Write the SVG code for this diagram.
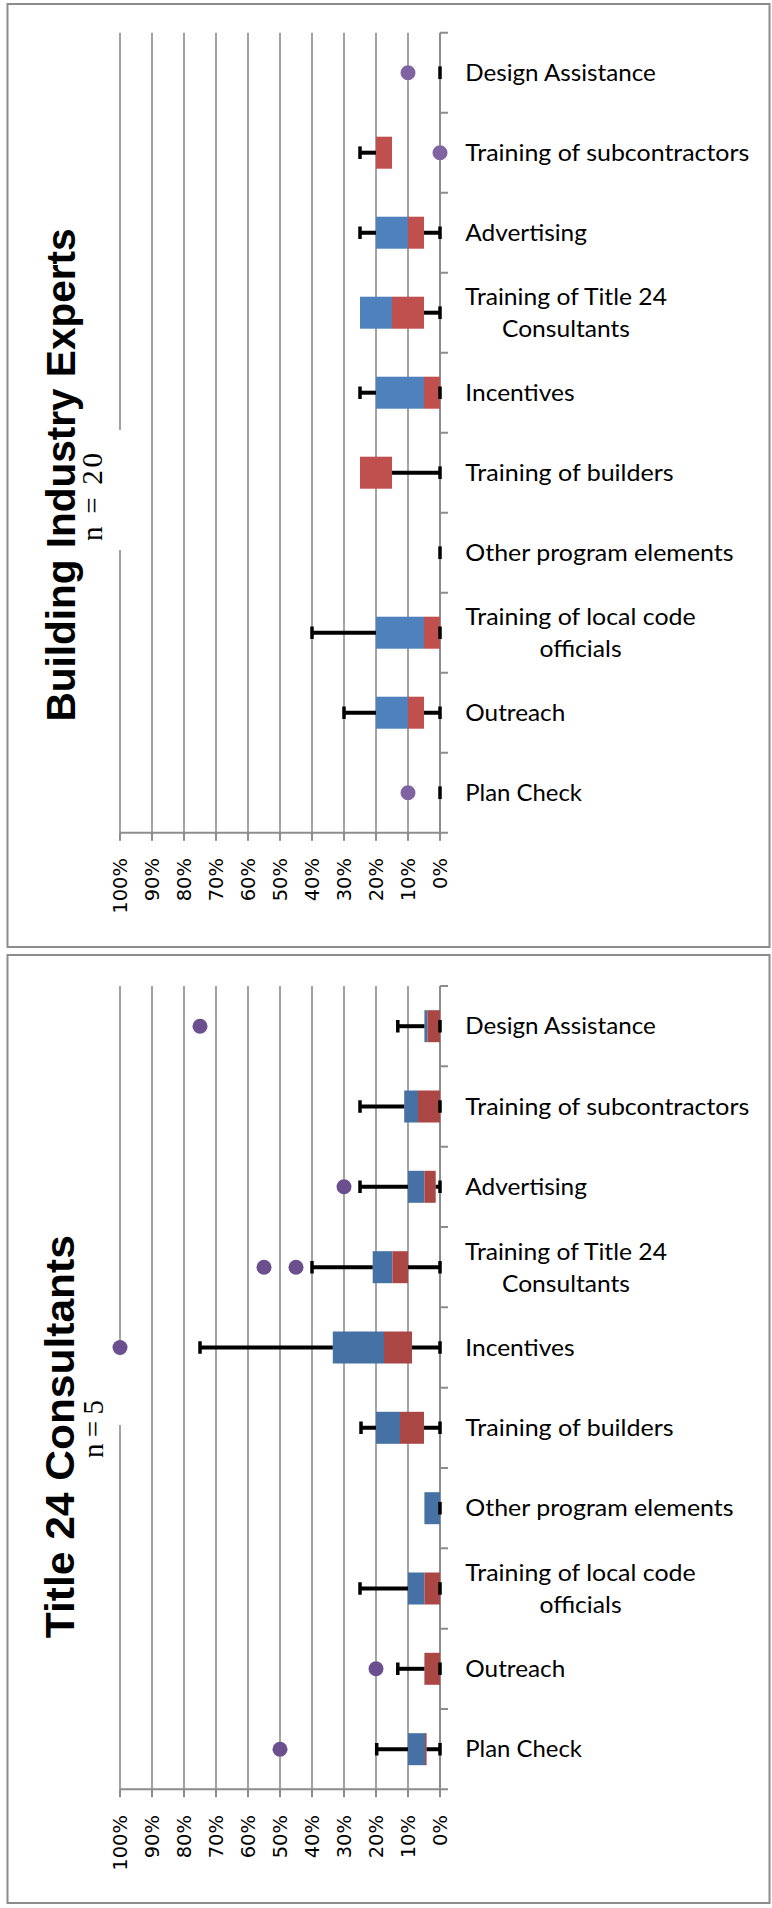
<svg xmlns="http://www.w3.org/2000/svg" width="772" height="1908" viewBox="0 0 772 1908">
<style>
.panel{fill:#fff;stroke:#8c8c8c;stroke-width:2}
.grid{stroke:#8c8c8c;stroke-width:1.6;fill:none}
.axis{stroke:#8c8c8c;stroke-width:2;fill:none}
.wh{stroke:#000;stroke-width:4;fill:none}
.cap{stroke:#000;stroke-width:3.5;fill:none}
.b1{fill:#4F81BD}.r1{fill:#C0504D}.d1{fill:#8064A2}
.b2{fill:#4671A5}.r2{fill:#AA4643}.d2{fill:#6C4F8F}
.lab{font-family:Lato,"Liberation Sans",sans-serif;font-size:23px;fill:#000}
.tick{font-family:"DejaVu Sans",sans-serif;font-size:19.5px;fill:#000}
.title{font-family:"Liberation Sans",Arial,sans-serif;font-weight:bold;font-size:41px;fill:#000}
.n{font-family:"Liberation Serif","Times New Roman",serif;font-size:29px;fill:#000}
</style>

<!-- ===== Panel 1: Building Industry Experts ===== -->
<g id="panel-building">
<rect class="panel" x="7.5" y="4" width="762" height="943"/>
<path class="grid" d="M120 32.7V832.7M152 32.7V832.7M184 32.7V832.7M216 32.7V832.7M248 32.7V832.7M280 32.7V832.7M312 32.7V832.7M344 32.7V832.7M376 32.7V832.7M408 32.7V832.7"/>
<rect x="84" y="430" width="40" height="120" fill="#fff"/>
<path class="axis" d="M440 32.7V832.7M440 32.7h8M440 112.7h8M440 192.7h8M440 272.7h8M440 352.7h8M440 432.7h8M440 512.7h8M440 592.7h8M440 672.7h8M440 752.7h8M440 832.7h8M120 832.7H448M120 832.7v8M152 832.7v8M184 832.7v8M216 832.7v8M248 832.7v8M280 832.7v8M312 832.7v8M344 832.7v8M376 832.7v8M408 832.7v8M440 832.7v8"/>
<g class="tick" text-anchor="end">
<text transform="translate(127,858) rotate(-90)">100%</text>
<text transform="translate(159,858) rotate(-90)">90%</text>
<text transform="translate(191,858) rotate(-90)">80%</text>
<text transform="translate(223,858) rotate(-90)">70%</text>
<text transform="translate(255,858) rotate(-90)">60%</text>
<text transform="translate(287,858) rotate(-90)">50%</text>
<text transform="translate(319,858) rotate(-90)">40%</text>
<text transform="translate(351,858) rotate(-90)">30%</text>
<text transform="translate(383,858) rotate(-90)">20%</text>
<text transform="translate(415,858) rotate(-90)">10%</text>
<text transform="translate(447,858) rotate(-90)">0%</text>
</g>
<text class="title" text-anchor="middle" textLength="493" lengthAdjust="spacingAndGlyphs" transform="translate(75,475) rotate(-90)">Building Industry Experts</text>
<text class="n" text-anchor="middle" textLength="88" lengthAdjust="spacing" transform="translate(102,497) rotate(-90)">n = 20</text>
</g>

<g id="p1-design-assistance">
<circle class="d1" cx="408" cy="72.7" r="7.5"/>
<path class="cap" d="M440 66.4V79"/>
<text class="lab" x="465.3" y="80.7" textLength="190.5" lengthAdjust="spacingAndGlyphs">Design Assistance</text>
</g>
<g id="p1-training-subcontractors">
<rect class="r1" x="376" y="136.7" width="16" height="32"/>
<path class="wh" d="M360 152.7H376"/><path class="cap" d="M360 146.4V159"/>
<circle class="d1" cx="440" cy="152.7" r="7.5"/>
<text class="lab" x="465.3" y="160.7" textLength="284" lengthAdjust="spacingAndGlyphs">Training of subcontractors</text>
</g>
<g id="p1-advertising">
<rect class="b1" x="376" y="216.7" width="32" height="32"/>
<rect class="r1" x="408" y="216.7" width="16" height="32"/>
<path class="wh" d="M360 232.7H376M424 232.7H440"/><path class="cap" d="M360 226.4V239M440 226.4V239"/>
<text class="lab" x="465.3" y="240.7" textLength="121.6" lengthAdjust="spacingAndGlyphs">Advertising</text>
</g>
<g id="p1-training-title24">
<rect class="b1" x="360" y="296.7" width="32" height="32"/>
<rect class="r1" x="392" y="296.7" width="32" height="32"/>
<path class="wh" d="M424 312.7H440"/><path class="cap" d="M440 306.4V319"/>
<text class="lab" x="566" y="305" text-anchor="middle" textLength="201.9" lengthAdjust="spacingAndGlyphs">Training of Title 24</text>
<text class="lab" x="566" y="337.3" text-anchor="middle" textLength="128" lengthAdjust="spacingAndGlyphs">Consultants</text>
</g>
<g id="p1-incentives">
<rect class="b1" x="376" y="376.7" width="48" height="32"/>
<rect class="r1" x="424" y="376.7" width="16" height="32"/>
<path class="wh" d="M360 392.7H376"/><path class="cap" d="M360 386.4V399M440 386.4V399"/>
<text class="lab" x="465.3" y="400.7" textLength="109.3" lengthAdjust="spacingAndGlyphs">Incentives</text>
</g>
<g id="p1-training-builders">
<rect class="r1" x="360" y="456.7" width="32" height="32"/>
<path class="wh" d="M392 472.7H440"/><path class="cap" d="M440 466.4V479"/>
<text class="lab" x="465.3" y="480.7" textLength="208.3" lengthAdjust="spacingAndGlyphs">Training of builders</text>
</g>
<g id="p1-other">
<path class="cap" d="M440 546.4V559"/>
<text class="lab" x="465.3" y="560.7" textLength="268.3" lengthAdjust="spacingAndGlyphs">Other program elements</text>
</g>
<g id="p1-training-local-code">
<rect class="b1" x="376" y="616.7" width="48" height="32"/>
<rect class="r1" x="424" y="616.7" width="16" height="32"/>
<path class="wh" d="M312 632.7H376"/><path class="cap" d="M312 626.4V639M440 626.4V639"/>
<text class="lab" x="580.5" y="625" text-anchor="middle" textLength="230.4" lengthAdjust="spacingAndGlyphs">Training of local code</text>
<text class="lab" x="580.5" y="657.3" text-anchor="middle" textLength="82.2" lengthAdjust="spacingAndGlyphs">officials</text>
</g>
<g id="p1-outreach">
<rect class="b1" x="376" y="696.7" width="32" height="32"/>
<rect class="r1" x="408" y="696.7" width="16" height="32"/>
<path class="wh" d="M344 712.7H376M424 712.7H440"/><path class="cap" d="M344 706.4V719M440 706.4V719"/>
<text class="lab" x="465.3" y="720.7" textLength="100" lengthAdjust="spacingAndGlyphs">Outreach</text>
</g>
<g id="p1-plan-check">
<circle class="d1" cx="408" cy="792.7" r="7.5"/>
<path class="cap" d="M440 786.4V799"/>
<text class="lab" x="465.3" y="800.7" textLength="116.7" lengthAdjust="spacingAndGlyphs">Plan Check</text>
</g>

<!-- ===== Panel 2: Title 24 Consultants ===== -->
<g id="panel-title24">
<rect class="panel" x="7.5" y="955" width="762" height="948"/>
<path class="grid" d="M120 986V1789.3M152 986V1789.3M184 986V1789.3M216 986V1789.3M248 986V1789.3M280 986V1789.3M312 986V1789.3M344 986V1789.3M376 986V1789.3M408 986V1789.3"/>
<rect x="84" y="1355" width="40" height="70" fill="#fff"/>
<path class="axis" d="M440 986V1789.3M440 986h8M440 1066.3h8M440 1146.7h8M440 1227h8M440 1307.3h8M440 1387.7h8M440 1468h8M440 1548.3h8M440 1628.7h8M440 1709h8M440 1789.3h8M120 1789.3H448M120 1789.3v8M152 1789.3v8M184 1789.3v8M216 1789.3v8M248 1789.3v8M280 1789.3v8M312 1789.3v8M344 1789.3v8M376 1789.3v8M408 1789.3v8M440 1789.3v8"/>
<g class="tick" text-anchor="end">
<text transform="translate(127,1815) rotate(-90)">100%</text>
<text transform="translate(159,1815) rotate(-90)">90%</text>
<text transform="translate(191,1815) rotate(-90)">80%</text>
<text transform="translate(223,1815) rotate(-90)">70%</text>
<text transform="translate(255,1815) rotate(-90)">60%</text>
<text transform="translate(287,1815) rotate(-90)">50%</text>
<text transform="translate(319,1815) rotate(-90)">40%</text>
<text transform="translate(351,1815) rotate(-90)">30%</text>
<text transform="translate(383,1815) rotate(-90)">20%</text>
<text transform="translate(415,1815) rotate(-90)">10%</text>
<text transform="translate(447,1815) rotate(-90)">0%</text>
</g>
<text class="title" text-anchor="middle" textLength="403" lengthAdjust="spacingAndGlyphs" transform="translate(74,1436.7) rotate(-90)">Title 24 Consultants</text>
<text class="n" text-anchor="middle" textLength="58" lengthAdjust="spacing" transform="translate(103,1429) rotate(-90)">n = 5</text>
</g>

<g id="p2-design-assistance">
<rect class="b2" x="424.4" y="1010.2" width="3" height="32"/>
<rect class="r2" x="427.4" y="1010.2" width="12.6" height="32"/>
<path class="wh" d="M397.8 1026.2H424.4"/><path class="cap" d="M397.8 1019.9V1032.5M440 1019.9V1032.5"/>
<circle class="d2" cx="200" cy="1026.2" r="7.5"/>
<text class="lab" x="465.3" y="1034.2" textLength="190.5" lengthAdjust="spacingAndGlyphs">Design Assistance</text>
</g>
<g id="p2-training-subcontractors">
<rect class="b2" x="404.2" y="1090.5" width="13.8" height="32"/>
<rect class="r2" x="418" y="1090.5" width="22" height="32"/>
<path class="wh" d="M360 1106.5H404.2"/><path class="cap" d="M360 1100.2V1112.8M440 1100.2V1112.8"/>
<text class="lab" x="465.3" y="1114.5" textLength="284" lengthAdjust="spacingAndGlyphs">Training of subcontractors</text>
</g>
<g id="p2-advertising">
<rect class="b2" x="408" y="1170.8" width="16.4" height="32"/>
<rect class="r2" x="424.4" y="1170.8" width="11.3" height="32"/>
<path class="wh" d="M360 1186.8H408M435.7 1186.8H440"/><path class="cap" d="M360 1180.5V1193.1M440 1180.5V1193.1"/>
<circle class="d2" cx="344" cy="1186.8" r="7.5"/>
<text class="lab" x="465.3" y="1194.8" textLength="121.6" lengthAdjust="spacingAndGlyphs">Advertising</text>
</g>
<g id="p2-training-title24">
<rect class="b2" x="372.7" y="1251.2" width="19.7" height="32"/>
<rect class="r2" x="392.4" y="1251.2" width="15.6" height="32"/>
<path class="wh" d="M312 1267.2H372.7M408 1267.2H440"/><path class="cap" d="M312 1260.9V1273.5M440 1260.9V1273.5"/>
<circle class="d2" cx="264" cy="1267.2" r="7.5"/>
<circle class="d2" cx="296" cy="1267.2" r="7.5"/>
<text class="lab" x="566" y="1259.5" text-anchor="middle" textLength="201.9" lengthAdjust="spacingAndGlyphs">Training of Title 24</text>
<text class="lab" x="566" y="1291.8" text-anchor="middle" textLength="128" lengthAdjust="spacingAndGlyphs">Consultants</text>
</g>
<g id="p2-incentives">
<rect class="b2" x="332.8" y="1331.5" width="51.2" height="32"/>
<rect class="r2" x="384" y="1331.5" width="28" height="32"/>
<path class="wh" d="M200 1347.5H332.8M412 1347.5H440"/><path class="cap" d="M200 1341.2V1353.8M440 1341.2V1353.8"/>
<circle class="d2" cx="120" cy="1347.5" r="7.5"/>
<text class="lab" x="465.3" y="1355.5" textLength="109.3" lengthAdjust="spacingAndGlyphs">Incentives</text>
</g>
<g id="p2-training-builders">
<rect class="b2" x="376" y="1411.8" width="24" height="32"/>
<rect class="r2" x="400" y="1411.8" width="24" height="32"/>
<path class="wh" d="M361 1427.8H376M424 1427.8H440"/><path class="cap" d="M361 1421.5V1434.1M440 1421.5V1434.1"/>
<text class="lab" x="465.3" y="1435.8" textLength="208.3" lengthAdjust="spacingAndGlyphs">Training of builders</text>
</g>
<g id="p2-other">
<rect class="b2" x="424.4" y="1492.2" width="15.6" height="32"/>
<path class="cap" d="M440 1501.9V1514.5"/>
<text class="lab" x="465.3" y="1516.2" textLength="268.3" lengthAdjust="spacingAndGlyphs">Other program elements</text>
</g>
<g id="p2-training-local-code">
<rect class="b2" x="408" y="1572.5" width="16.4" height="32"/>
<rect class="r2" x="424.4" y="1572.5" width="15.6" height="32"/>
<path class="wh" d="M360 1588.5H408"/><path class="cap" d="M360 1582.2V1594.8M440 1582.2V1594.8"/>
<text class="lab" x="580.5" y="1580.8" text-anchor="middle" textLength="230.4" lengthAdjust="spacingAndGlyphs">Training of local code</text>
<text class="lab" x="580.5" y="1613.1" text-anchor="middle" textLength="82.2" lengthAdjust="spacingAndGlyphs">officials</text>
</g>
<g id="p2-outreach">
<rect class="r2" x="424.4" y="1652.8" width="15.6" height="32"/>
<path class="wh" d="M397.8 1668.8H424.4"/><path class="cap" d="M397.8 1662.5V1675.1M440 1662.5V1675.1"/>
<circle class="d2" cx="376" cy="1668.8" r="7.5"/>
<text class="lab" x="465.3" y="1676.8" textLength="100" lengthAdjust="spacingAndGlyphs">Outreach</text>
</g>
<g id="p2-plan-check">
<rect class="b2" x="408" y="1733.2" width="17" height="32"/>
<rect class="r2" x="425" y="1733.2" width="1.6" height="32"/>
<path class="wh" d="M376.7 1749.2H408M426.6 1749.2H440"/><path class="cap" d="M376.7 1742.9V1755.5M440 1742.9V1755.5"/>
<circle class="d2" cx="280" cy="1749.2" r="7.5"/>
<text class="lab" x="465.3" y="1757.2" textLength="116.7" lengthAdjust="spacingAndGlyphs">Plan Check</text>
</g>
<g id="connectors"/>
</svg>
